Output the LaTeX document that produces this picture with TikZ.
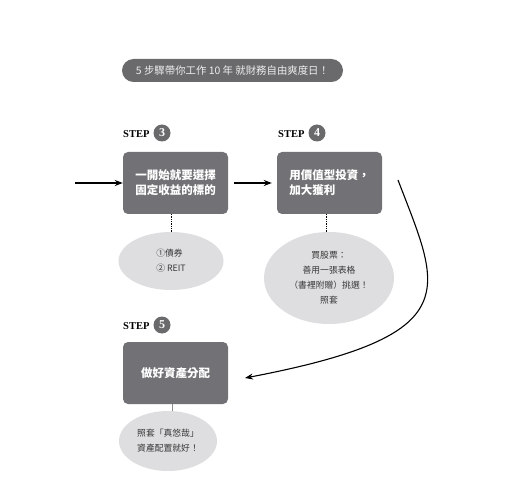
\documentclass[tikz,border=0pt]{standalone}
\usepackage{fontspec}
\setmainfont{Liberation Serif}
\newfontfamily\cjk{Noto Sans CJK TC}
\usetikzlibrary{arrows.meta,shapes.geometric}
\definecolor{boxgray}{RGB}{114,114,118}
\definecolor{pillgray}{RGB}{106,106,108}
\definecolor{ellgray}{RGB}{222,222,224}
\definecolor{txtgray}{RGB}{55,55,55}
\tikzset{
  stepbox/.style={draw=none,fill=boxgray,rounded corners=5pt,minimum width=105pt,minimum height=62pt,
    text=white,font=\cjk\bfseries\fontsize{11.5}{15}\selectfont,inner sep=0pt},
  noteell/.style={ellipse,fill=ellgray,draw=none,text=txtgray,font=\cjk\fontsize{8.8}{15}\selectfont,inner sep=0pt},
  steplabel/.style={font=\bfseries\fontsize{10.5}{12}\selectfont,anchor=west,inner sep=0pt},
  stepnum/.style={circle,fill=pillgray,text=white,minimum size=17pt,inner sep=0pt,font=\bfseries\fontsize{12}{12}\selectfont},
  flowarrow/.style={line width=1.5pt,-{Stealth[length=8pt,width=6pt]}},
  dotline/.style={line width=1.3pt,densely dotted}
}
\begin{document}
\begin{tikzpicture}[x=1pt,y=-1pt]
\useasboundingbox (0,0) rectangle (520,500);
\fill[white] (0,0) rectangle (520,500);
% title
\node[fill=pillgray,rounded corners=11.5pt,minimum width=221pt,minimum height=23pt,inner sep=0pt,
  text=white!93!black,font=\cjk\fontsize{10.4}{12}\selectfont] (title) at (232.5,70.5) {5 步驟帶你工作 10 年 就財務自由爽度日！};
% step labels
\node[steplabel] (s3) at (123,134) {STEP};
\node[stepnum] (n3) at (162,133) {3};
\node[steplabel] (s4) at (278,134) {STEP};
\node[stepnum] (n4) at (317,133) {4};
\node[steplabel] (s5) at (123,326) {STEP};
\node[stepnum] (n5) at (162,325) {5};
% boxes
\node[stepbox,align=center] (b3) at (175.5,183) {一開始就要選擇\\固定收益的標的};
\node[stepbox,align=left] (b4) at (329.5,183) {用價值型投資，\\加大獲利};
\node[stepbox] (b5) at (175.5,373) {做好資產分配};
% ellipses
\node[noteell,minimum width=105pt,minimum height=58pt,align=left] (e3) at (171,261) {①債券\\② REIT};
\node[noteell,minimum width=130pt,minimum height=92pt,align=center] (e4) at (329,278) {買股票：\\善用一張表格\\（書裡附贈）挑選！\\照套};
\node[noteell,minimum width=98pt,minimum height=60pt,align=center] (e5) at (168,441) {照套「真悠哉」\\資產配置就好！};
% connectors
\coordinate (start) at (75,183);
\draw[flowarrow] (start) -- (b3.west);
\draw[flowarrow] (b3.east) ++(6,0) coordinate (a34) -- ([xshift=-5pt]b4.west);
\draw[dotline] ([xshift=-4pt]b3.south) -- ([xshift=-4pt]b3.south |- e3.north);
\draw[dotline] ([xshift=-3pt]b4.south) -- ([xshift=-3pt]b4.south |- e4.north);
\draw[line width=0.8pt,black!45] ([xshift=-3pt]b5.south) -- ([xshift=-3pt]b5.south |- e5.north);
\coordinate (c4) at (398,180);
\coordinate (c5) at (245,378);
\draw[line width=1.1pt,-{Stealth[length=8pt,width=6pt]}] (c4) .. controls (440,290) and (470,335) .. (c5);
\end{tikzpicture}
\end{document}
